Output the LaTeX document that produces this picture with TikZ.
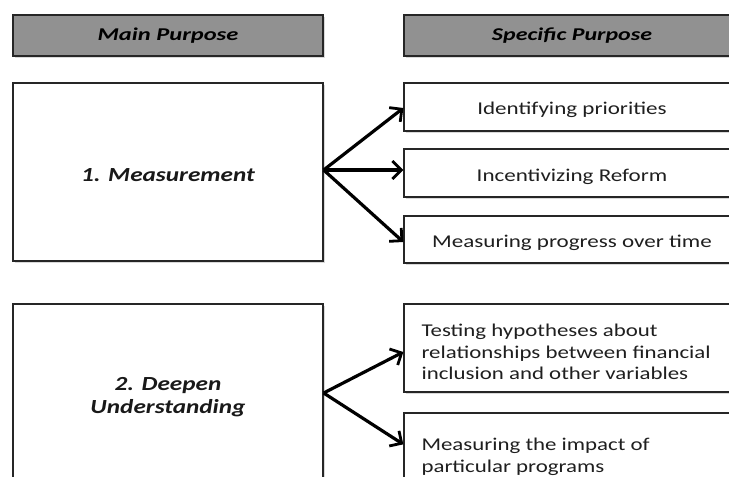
\documentclass[tikz,border=0pt]{standalone}
\usepackage{fontspec}
\setmainfont{Carlito}
\usetikzlibrary{arrows.meta,shadows}
\newcommand{\hstretch}[2]{\scalebox{#1}[1]{#2}}
\begin{document}
\begin{tikzpicture}[x=1pt,y=-1pt,
  boxbase/.style={draw=black!85, line width=1.3pt, fill=white, rectangle, inner sep=0pt,
    drop shadow={shadow xshift=1.5pt, shadow yshift=-1.5pt, opacity=0.3}},
  headbox/.style={boxbase, fill=black!43, minimum height=41pt, font=\fontsize{18}{21}\selectfont\bfseries\itshape},
  mainbox/.style={boxbase, minimum width=310pt},
  maintext/.style={inner sep=0pt, font=\fontsize{20}{23}\selectfont\bfseries\itshape, text=black!90},
  specbox/.style={boxbase, minimum width=336pt},
  spectext/.style={inner sep=0pt, font=\fontsize{18}{21.5}\selectfont, text=black!88},
  arr/.style={line width=3.2pt, -{Straight Barb[length=9pt,width=18pt,line width=2.8pt]}}
]
\useasboundingbox (0,0) rectangle (729,477);
\clip (0,0) rectangle (729,477);
\node[headbox, minimum width=310pt] (h1) at (168,35.5) {\hstretch{1.36}{Main Purpose}};
\node[headbox, minimum width=336pt] (h2) at (572,35.5) {\hstretch{1.33}{Specific Purpose}};
\node[mainbox, minimum height=178pt] (m1) at (168,172) {};
\node[mainbox, minimum height=184pt] (m2) at (168,396) {};
\node[maintext] (m1t) at ([yshift=-3pt]m1.center) {\hstretch{1.26}{1. Measurement}};
\node[maintext] (m2t) at ([yshift=-1pt]m2.center) {\hstretch{1.26}{\begin{tabular}{@{}c@{}}2. Deepen\\Understanding\end{tabular}}};
\node[specbox, minimum height=48pt] (s1) at (572,107) {};
\node[specbox, minimum height=48pt] (s2) at (572,173) {};
\node[specbox, minimum height=47pt] (s3) at (572,239.5) {};
\node[specbox, minimum height=88pt] (s4) at (572,348) {};
\node[specbox, minimum height=86pt] (s5) at (572,456) {};
\node[spectext] (s1t) at ([yshift=-3pt]s1.center) {\hstretch{1.28}{Identifying priorities}};
\node[spectext] (s2t) at ([yshift=-4pt]s2.center) {\hstretch{1.28}{Incentivizing Reform}};
\node[spectext] (s3t) at ([yshift=-3pt]s3.center) {\hstretch{1.28}{Measuring progress over time}};
\node[spectext, anchor=west] (s4t) at ([xshift=18pt,yshift=-6pt]s4.west) {\hstretch{1.27}{\begin{tabular}{@{}l@{}}Testing hypotheses about\\relationships between financial\\inclusion and other variables\end{tabular}}};
\node[spectext, anchor=west] (s5t) at ([xshift=18pt,yshift=-1pt]s5.west) {\hstretch{1.27}{\begin{tabular}{@{}l@{}}Measuring the impact of\\particular programs\end{tabular}}};
\draw[arr] ([yshift=2pt]m1.east) -- ([yshift=-1pt]s1.west);
\draw[arr] ([yshift=2pt]m1.east) -- ([yshift=3pt]s2.west);
\draw[arr] ([yshift=2pt]m1.east) -- ([yshift=-2.5pt]s3.west);
\draw[arr] ([yshift=3pt]m2.east) -- ([yshift=-4pt]s4.west);
\draw[arr] ([yshift=3pt]m2.east) -- ([yshift=-32pt]s5.north west);
\end{tikzpicture}
\end{document}
